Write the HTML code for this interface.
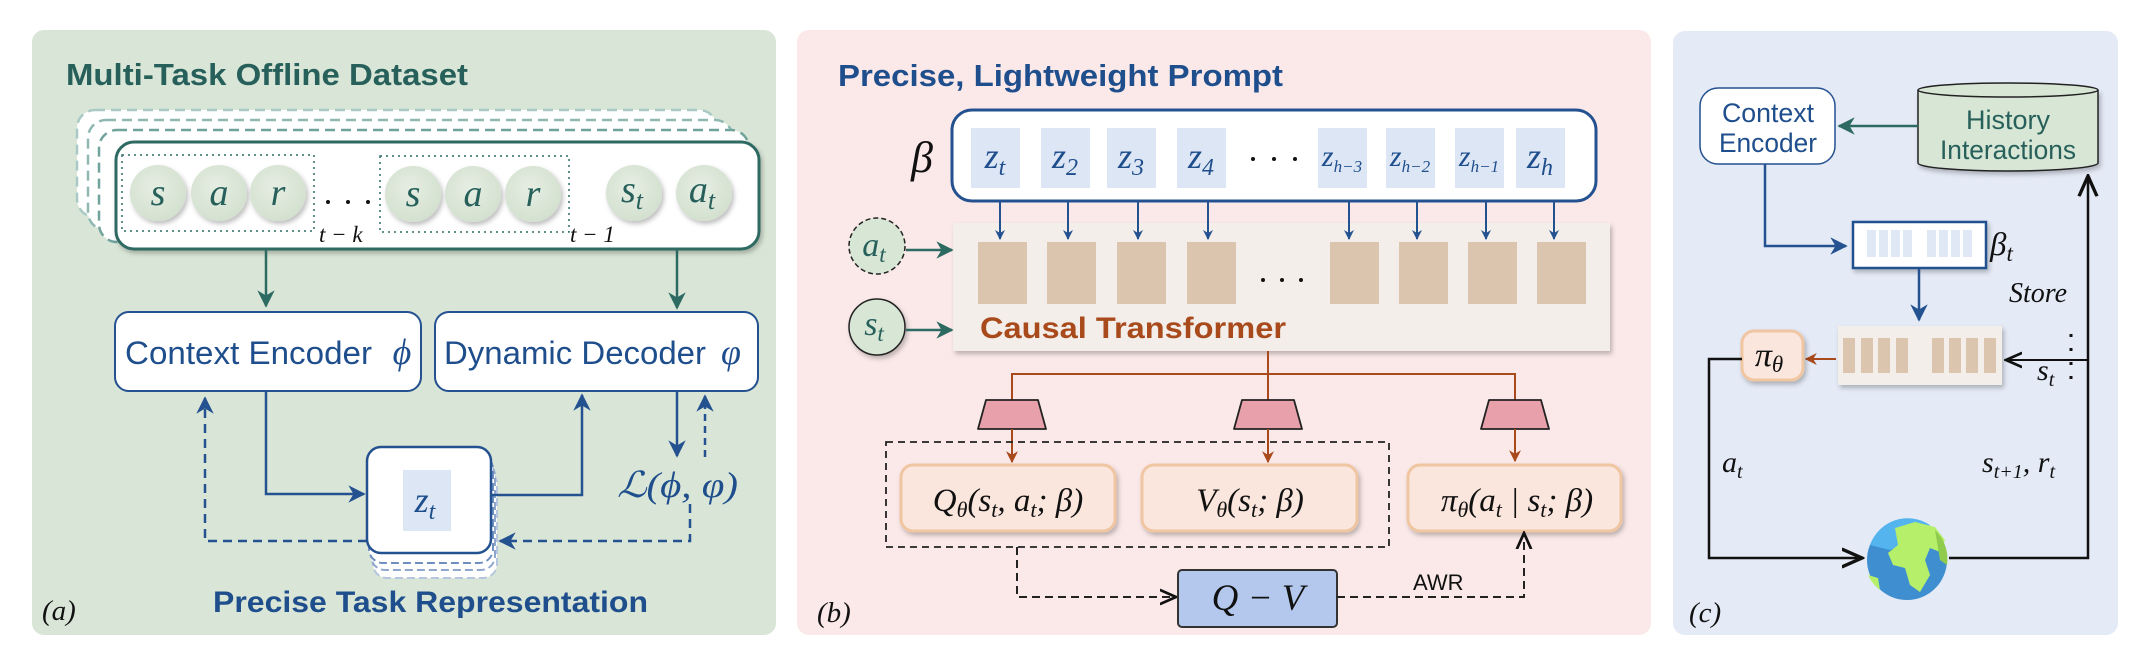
<!DOCTYPE html>
<html><head><meta charset="utf-8"><style>
html,body{margin:0;padding:0;background:#fff;}
svg{display:block;}
.t{font-family:"Liberation Sans",sans-serif;font-weight:bold;}
.m{font-family:"Liberation Serif",serif;font-style:italic;}
.s{font-family:"Liberation Sans",sans-serif;}
</style></head><body>
<svg width="2146" height="666" viewBox="0 0 2146 666" xmlns="http://www.w3.org/2000/svg">
<defs>
<marker id="ag" viewBox="0 0 10 10" refX="9" refY="5" markerWidth="7" markerHeight="7" orient="auto-start-reverse"><path d="M0,0 L10,5 L0,10 L3,5 z" fill="#2d6a62"/></marker>
<marker id="ab" viewBox="0 0 10 10" refX="9" refY="5" markerWidth="7" markerHeight="7" orient="auto-start-reverse"><path d="M0,0 L10,5 L0,10 L3,5 z" fill="#24518f"/></marker>
<marker id="ab2" viewBox="0 0 10 10" refX="9" refY="5" markerWidth="5" markerHeight="5" orient="auto-start-reverse"><path d="M0,0 L10,5 L0,10 L3,5 z" fill="#24518f"/></marker>
<marker id="ao" viewBox="0 0 10 10" refX="9" refY="5" markerWidth="6" markerHeight="6" orient="auto-start-reverse"><path d="M0,0 L10,5 L0,10 L3,5 z" fill="#a84a1c"/></marker>
<marker id="ak" viewBox="0 0 10 10" refX="9" refY="5" markerWidth="9" markerHeight="9" orient="auto-start-reverse"><path d="M0,1 L9,5 L0,9" fill="none" stroke="#111" stroke-width="1.5"/></marker>
<filter id="sh" x="-10%" y="-10%" width="130%" height="140%"><feDropShadow dx="2" dy="3" stdDeviation="2.5" flood-color="#000" flood-opacity="0.25"/></filter>
<radialGradient id="cg" cx="45%" cy="40%" r="60%"><stop offset="0" stop-color="#e6eee3"/><stop offset="1" stop-color="#d3e0cf"/></radialGradient>
</defs>

<!-- Panel a -->
<rect x="32" y="30" width="744" height="605" rx="12" fill="#d9e6d7"/>
<text x="66" y="85" class="t" font-size="31" fill="#27605a" textLength="402" lengthAdjust="spacingAndGlyphs">Multi-Task Offline Dataset</text>
<rect x="77" y="110" width="640" height="107" rx="18" fill="#fff" stroke="#a9c9c4" stroke-width="2.5" stroke-dasharray="10,6"/>
<rect x="88" y="120" width="645" height="110" rx="18" fill="#fff" stroke="#8fb8b2" stroke-width="2.5" stroke-dasharray="10,6"/>
<rect x="99" y="130" width="650" height="112" rx="18" fill="#fff" stroke="#6fa39c" stroke-width="2.5" stroke-dasharray="10,6"/>
<rect x="116" y="142" width="643" height="107" rx="18" fill="#fff" stroke="#2d6a62" stroke-width="3" filter="url(#sh)"/>
<rect x="122" y="155" width="192" height="76" fill="none" stroke="#2d6a62" stroke-width="1.5" stroke-dasharray="2,4"/>
<rect x="380" y="156" width="189" height="76" fill="none" stroke="#2d6a62" stroke-width="1.5" stroke-dasharray="2,4"/>
<g filter="url(#sh)" fill="url(#cg)">
<circle cx="158" cy="193" r="28"/><circle cx="219" cy="193" r="28"/><circle cx="278" cy="193" r="28"/>
<circle cx="413" cy="194" r="28"/><circle cx="473" cy="194" r="28"/><circle cx="533" cy="194" r="28"/>
<circle cx="634" cy="193" r="28"/><circle cx="704" cy="193" r="28"/>
</g>
<g class="m" font-size="38" fill="#27605a" text-anchor="middle">
<text x="158" y="205">s</text><text x="219" y="205">a</text><text x="278" y="205">r</text>
<text x="413" y="206">s</text><text x="473" y="206">a</text><text x="533" y="206">r</text>
<text x="632" y="202">s<tspan font-size="26" dy="7">t</tspan></text>
<text x="702" y="202">a<tspan font-size="26" dy="7">t</tspan></text>
</g>
<g fill="#111"><circle cx="328" cy="202" r="2"/><circle cx="348" cy="202" r="2"/><circle cx="368" cy="202" r="2"/></g>
<text x="319" y="242" class="m" font-size="23" fill="#111">t − k</text>
<text x="570" y="242" class="m" font-size="23" fill="#111">t − 1</text>
<line x1="266" y1="250" x2="266" y2="306" stroke="#2d6a62" stroke-width="2.5" marker-end="url(#ag)"/>
<line x1="677" y1="250" x2="677" y2="308" stroke="#2d6a62" stroke-width="2.5" marker-end="url(#ag)"/>
<rect x="115" y="312" width="306" height="79" rx="14" fill="#fff" stroke="#24518f" stroke-width="2"/>
<text x="125" y="364" class="s" font-size="32" fill="#1f4e8c" textLength="247" lengthAdjust="spacingAndGlyphs">Context Encoder</text>
<text x="402" y="364" class="m" font-size="36" fill="#1f4e8c" text-anchor="middle">ϕ</text>
<rect x="435" y="312" width="323" height="79" rx="14" fill="#fff" stroke="#24518f" stroke-width="2"/>
<text x="444" y="364" class="s" font-size="32" fill="#1f4e8c" textLength="262" lengthAdjust="spacingAndGlyphs">Dynamic Decoder</text>
<text x="731" y="364" class="m" font-size="36" fill="#1f4e8c" text-anchor="middle">φ</text>
<!-- z_t stack -->
<rect x="373" y="470" width="124" height="108" rx="14" fill="#fff" stroke="#b5c6de" stroke-width="2" stroke-dasharray="8,4"/>
<rect x="371" y="462" width="124" height="108" rx="14" fill="#fff" stroke="#8fa7cc" stroke-width="2" stroke-dasharray="8,4"/>
<rect x="369" y="455" width="124" height="108" rx="14" fill="#fff" stroke="#6f8fbf" stroke-width="2" stroke-dasharray="8,4"/>
<rect x="367" y="447" width="124" height="106" rx="14" fill="#fff" stroke="#24518f" stroke-width="2.5"/>
<rect x="403" y="470" width="48" height="61" fill="#dce6f5"/>
<text x="425" y="512" class="m" font-size="36" fill="#1f4e8c" text-anchor="middle">z<tspan font-size="24" dy="7">t</tspan></text>
<polyline points="266,391 266,494 364,494" fill="none" stroke="#24518f" stroke-width="2.5" marker-end="url(#ab)"/>
<polyline points="491,495 582,495 582,395" fill="none" stroke="#24518f" stroke-width="2.5" marker-end="url(#ab)"/>
<line x1="677" y1="391" x2="677" y2="456" stroke="#24518f" stroke-width="2.5" marker-end="url(#ab)"/>
<line x1="705" y1="457" x2="705" y2="396" stroke="#24518f" stroke-width="2.5" stroke-dasharray="7,5" marker-end="url(#ab)"/>
<text x="617" y="497" class="m" font-size="36" fill="#1f4e8c" textLength="121" lengthAdjust="spacingAndGlyphs">ℒ(ϕ, φ)</text>
<polyline points="690,504 690,541 500,541" fill="none" stroke="#24518f" stroke-width="2.5" stroke-dasharray="9,6" marker-end="url(#ab)"/>
<polyline points="367,541 205,541 205,398" fill="none" stroke="#24518f" stroke-width="2.5" stroke-dasharray="9,6" marker-end="url(#ab)"/>
<text x="213" y="612" class="t" font-size="30" fill="#1f4e8c" textLength="435" lengthAdjust="spacingAndGlyphs">Precise Task Representation</text>
<text x="42" y="620" class="m" font-size="29" fill="#111">(a)</text>

<!-- Panel b -->
<rect x="797" y="30" width="854" height="605" rx="12" fill="#fbe9e9"/>
<text x="838" y="86" class="t" font-size="31" fill="#1f4e8c" textLength="445" lengthAdjust="spacingAndGlyphs">Precise, Lightweight Prompt</text>
<text x="911" y="172" class="m" font-size="44" fill="#111">β</text>
<rect x="952" y="110" width="644" height="91" rx="20" fill="#fff" stroke="#24518f" stroke-width="3"/>
<g fill="#dce6f5">
<rect x="971" y="128" width="49" height="60"/><rect x="1041" y="128" width="49" height="60"/><rect x="1107" y="128" width="49" height="60"/><rect x="1177" y="128" width="49" height="60"/>
<rect x="1318" y="128" width="49" height="60"/><rect x="1386" y="128" width="49" height="60"/><rect x="1455" y="128" width="49" height="60"/><rect x="1516" y="128" width="49" height="60"/>
</g>
<g class="m" fill="#1f4e8c" text-anchor="middle" font-size="36">
<text x="995" y="168">z<tspan font-size="24" dy="7">t</tspan></text>
<text x="1065" y="168">z<tspan font-size="24" dy="7">2</tspan></text>
<text x="1131" y="168">z<tspan font-size="24" dy="7">3</tspan></text>
<text x="1201" y="168">z<tspan font-size="24" dy="7">4</tspan></text>
<text x="1342" y="166" font-size="30">z<tspan font-size="17" dy="6">h−3</tspan></text>
<text x="1410" y="166" font-size="30">z<tspan font-size="17" dy="6">h−2</tspan></text>
<text x="1479" y="166" font-size="30">z<tspan font-size="17" dy="6">h−1</tspan></text>
<text x="1540" y="168">z<tspan font-size="24" dy="7">h</tspan></text>
</g>
<g fill="#111"><circle cx="1253" cy="159" r="2"/><circle cx="1274" cy="159" r="2"/><circle cx="1295" cy="159" r="2"/></g>
<rect x="953" y="223" width="657" height="128" fill="#f3eeea" filter="url(#sh)"/>
<g stroke="#24518f" stroke-width="2" marker-end="url(#ab2)">
<line x1="1000" y1="201" x2="1000" y2="239"/><line x1="1068" y1="201" x2="1068" y2="239"/><line x1="1138" y1="201" x2="1138" y2="239"/><line x1="1208" y1="201" x2="1208" y2="239"/>
<line x1="1349" y1="201" x2="1349" y2="239"/><line x1="1417" y1="201" x2="1417" y2="239"/><line x1="1486" y1="201" x2="1486" y2="239"/><line x1="1554" y1="201" x2="1554" y2="239"/>
</g>
<g fill="#dcc5ae">
<rect x="978" y="242" width="49" height="62"/><rect x="1047" y="242" width="49" height="62"/><rect x="1117" y="242" width="49" height="62"/><rect x="1187" y="242" width="49" height="62"/>
<rect x="1330" y="242" width="49" height="62"/><rect x="1399" y="242" width="49" height="62"/><rect x="1468" y="242" width="49" height="62"/><rect x="1537" y="242" width="49" height="62"/>
</g>
<g fill="#111"><circle cx="1263" cy="280" r="2"/><circle cx="1282" cy="280" r="2"/><circle cx="1301" cy="280" r="2"/></g>
<text x="980" y="338" class="t" font-size="30" fill="#a84a1c" textLength="306" lengthAdjust="spacingAndGlyphs">Causal Transformer</text>
<ellipse cx="877" cy="246" rx="28" ry="28" fill="#d8e6d6" stroke="#222" stroke-width="1.5" stroke-dasharray="5,3"/>
<ellipse cx="877" cy="327" rx="28" ry="28" fill="#d8e6d6" stroke="#222" stroke-width="1.5" filter="url(#sh)"/>
<text x="874" y="256" class="m" font-size="34" fill="#27605a" text-anchor="middle">a<tspan font-size="23" dy="6">t</tspan></text>
<text x="874" y="335" class="m" font-size="34" fill="#27605a" text-anchor="middle">s<tspan font-size="23" dy="6">t</tspan></text>
<line x1="906" y1="250" x2="952" y2="250" stroke="#2d6a62" stroke-width="2.5" marker-end="url(#ag)"/>
<line x1="906" y1="330" x2="952" y2="330" stroke="#2d6a62" stroke-width="2.5" marker-end="url(#ag)"/>
<g stroke="#a84a1c" stroke-width="2" fill="none">
<line x1="1268" y1="351" x2="1268" y2="400"/>
<polyline points="1012,400 1012,374 1515,374 1515,400"/>
</g>
<g fill="#e8a0aa" stroke="#222" stroke-width="1.8" stroke-linejoin="round">
<polygon points="986,400 1038,400 1046,429 978,429"/>
<polygon points="1242,400 1294,400 1302,429 1234,429"/>
<polygon points="1489,400 1541,400 1549,429 1481,429"/>
</g>
<g stroke="#a84a1c" stroke-width="2" marker-end="url(#ao)">
<line x1="1012" y1="429" x2="1012" y2="462"/><line x1="1268" y1="429" x2="1268" y2="462"/><line x1="1515" y1="429" x2="1515" y2="461"/>
</g>
<rect x="886" y="442" width="503" height="105" fill="none" stroke="#222" stroke-width="1.8" stroke-dasharray="7,5"/>
<g fill="#fae6dc" stroke="#f0c6a2" stroke-width="3" filter="url(#sh)">
<rect x="901" y="465" width="214" height="66" rx="12"/>
<rect x="1142" y="465" width="215" height="66" rx="12"/>
<rect x="1408" y="465" width="213" height="66" rx="12"/>
</g>
<g class="m" font-size="33" fill="#111" text-anchor="middle">
<text x="1008" y="511">Q<tspan font-size="22" dy="6">θ</tspan><tspan dy="-6">(s</tspan><tspan font-size="22" dy="6">t</tspan><tspan dy="-6">, a</tspan><tspan font-size="22" dy="6">t</tspan><tspan dy="-6">; β)</tspan></text>
<text x="1250" y="511">V<tspan font-size="22" dy="6">θ</tspan><tspan dy="-6">(s</tspan><tspan font-size="22" dy="6">t</tspan><tspan dy="-6">; β)</tspan></text>
<text x="1517" y="511">π<tspan font-size="22" dy="6">θ</tspan><tspan dy="-6">(a</tspan><tspan font-size="22" dy="6">t</tspan><tspan dy="-6"> | s</tspan><tspan font-size="22" dy="6">t</tspan><tspan dy="-6">; β)</tspan></text>
</g>
<polyline points="1017,547 1017,597 1176,597" fill="none" stroke="#222" stroke-width="2" stroke-dasharray="8,5" marker-end="url(#ak)"/>
<rect x="1178" y="570" width="159" height="57" rx="4" fill="#b4c8ed" stroke="#333" stroke-width="2"/>
<text x="1258" y="610" class="m" font-size="37" fill="#111" text-anchor="middle">Q − V</text>
<polyline points="1337,597 1524,597 1524,533" fill="none" stroke="#222" stroke-width="2" stroke-dasharray="8,5" marker-end="url(#ak)"/>
<text x="1413" y="590" class="s" font-size="22" fill="#111">AWR</text>
<text x="817" y="622" class="m" font-size="29" fill="#111">(b)</text>

<!-- Panel c -->
<rect x="1673" y="31" width="445" height="604" rx="12" fill="#e4eaf6"/>
<rect x="1700" y="88" width="135" height="76" rx="18" fill="#fff" stroke="#24518f" stroke-width="1.5"/>
<text x="1768" y="122" class="s" font-size="27" fill="#1f4e8c" text-anchor="middle" textLength="92" lengthAdjust="spacingAndGlyphs">Context</text>
<text x="1768" y="152" class="s" font-size="27" fill="#1f4e8c" text-anchor="middle" textLength="98" lengthAdjust="spacingAndGlyphs">Encoder</text>
<path d="M1918,90 L1918,163 A90,8 0 0 0 2098,163 L2098,90" fill="#d8e6d6" stroke="#222" stroke-width="1.5" filter="url(#sh)"/>
<ellipse cx="2008" cy="90" rx="90" ry="7" fill="#d8e6d6" stroke="#222" stroke-width="1.5"/>
<text x="2008" y="129" class="s" font-size="27" fill="#27605a" text-anchor="middle">History</text>
<text x="2008" y="159" class="s" font-size="27" fill="#27605a" text-anchor="middle" textLength="136" lengthAdjust="spacingAndGlyphs">Interactions</text>
<line x1="1918" y1="126" x2="1839" y2="126" stroke="#2d6a62" stroke-width="2.5" marker-end="url(#ag)"/>
<polyline points="1765,164 1765,246 1846,246" fill="none" stroke="#24518f" stroke-width="2.5" marker-end="url(#ab)"/>
<rect x="1853" y="222" width="133" height="46" fill="#fff" stroke="#24518f" stroke-width="2.5" filter="url(#sh)"/>
<g fill="#e0e8f6">
<rect x="1867" y="230" width="9" height="27"/><rect x="1879" y="230" width="9" height="27"/><rect x="1891" y="230" width="9" height="27"/><rect x="1903" y="230" width="9" height="27"/>
<rect x="1927" y="230" width="9" height="27"/><rect x="1939" y="230" width="9" height="27"/><rect x="1951" y="230" width="9" height="27"/><rect x="1963" y="230" width="9" height="27"/>
</g>
<text x="1990" y="255" class="m" font-size="33" fill="#111">β<tspan font-size="23" dy="6">t</tspan></text>
<line x1="1919" y1="268" x2="1919" y2="320" stroke="#24518f" stroke-width="2.5" marker-end="url(#ab)"/>
<rect x="1838" y="326" width="164" height="59" fill="#f3eeea" filter="url(#sh)"/>
<g fill="#dcc5ae">
<rect x="1843" y="338" width="12" height="35"/><rect x="1861" y="338" width="12" height="35"/><rect x="1878" y="338" width="12" height="35"/><rect x="1896" y="338" width="12" height="35"/>
<rect x="1932" y="338" width="12" height="35"/><rect x="1949" y="338" width="12" height="35"/><rect x="1966" y="338" width="12" height="35"/><rect x="1984" y="338" width="12" height="35"/>
</g>
<line x1="1836" y1="359" x2="1806" y2="359" stroke="#a84a1c" stroke-width="2" marker-end="url(#ao)"/>
<rect x="1742" y="331" width="61" height="49" rx="12" fill="#fae6dc" stroke="#f0c6a2" stroke-width="3" filter="url(#sh)"/>
<text x="1769" y="366" class="m" font-size="34" fill="#111" text-anchor="middle">π<tspan font-size="23" dy="6">θ</tspan></text>
<polyline points="1742,359 1709,359 1709,558 1862,558" fill="none" stroke="#111" stroke-width="2.5" marker-end="url(#ak)"/>
<polyline points="1949,558 2088,558 2088,176" fill="none" stroke="#111" stroke-width="2.5" marker-end="url(#ak)"/>
<line x1="2088" y1="360" x2="2006" y2="360" stroke="#111" stroke-width="2" marker-end="url(#ak)"/>
<line x1="2071" y1="334" x2="2071" y2="387" stroke="#111" stroke-width="3" stroke-dasharray="3,11"/>
<text x="2009" y="302" class="m" font-size="28" fill="#111">Store</text>
<text x="2037" y="380" class="m" font-size="30" fill="#111">s<tspan font-size="20" dy="6">t</tspan></text>
<text x="1722" y="472" class="m" font-size="30" fill="#111">a<tspan font-size="20" dy="6">t</tspan></text>
<text x="1982" y="472" class="m" font-size="30" fill="#111">s<tspan font-size="20" dy="6">t+1</tspan><tspan dy="-6">, r</tspan><tspan font-size="20" dy="6">t</tspan></text>
<!-- globe -->
<circle cx="1907" cy="560" r="40" fill="#3f8fd0"/>
<path d="M1870,545 A40,40 0 0 1 1930,525 L1915,540 L1890,550 Z" fill="#54b4ee"/>
<path d="M1895,528 L1915,522 L1935,527 L1945,540 L1940,552 L1930,548 L1925,560 L1930,575 L1920,592 L1910,585 L1905,568 L1893,565 L1888,553 L1898,545 Z" fill="#b6ef6a"/>
<path d="M1935,530 A40,40 0 0 1 1947,565 L1940,560 Z" fill="#8fcc4e"/>
<path d="M1868,575 L1878,578 L1880,590 A40,40 0 0 1 1868,575 Z" fill="#b6ef6a"/>
<path d="M1870,575 A40,40 0 0 0 1944,575 A40,40 0 0 1 1870,575Z" fill="#2f7bb8"/>
<text x="1689" y="622" class="m" font-size="29" fill="#111">(c)</text>
</svg>
</body></html>
